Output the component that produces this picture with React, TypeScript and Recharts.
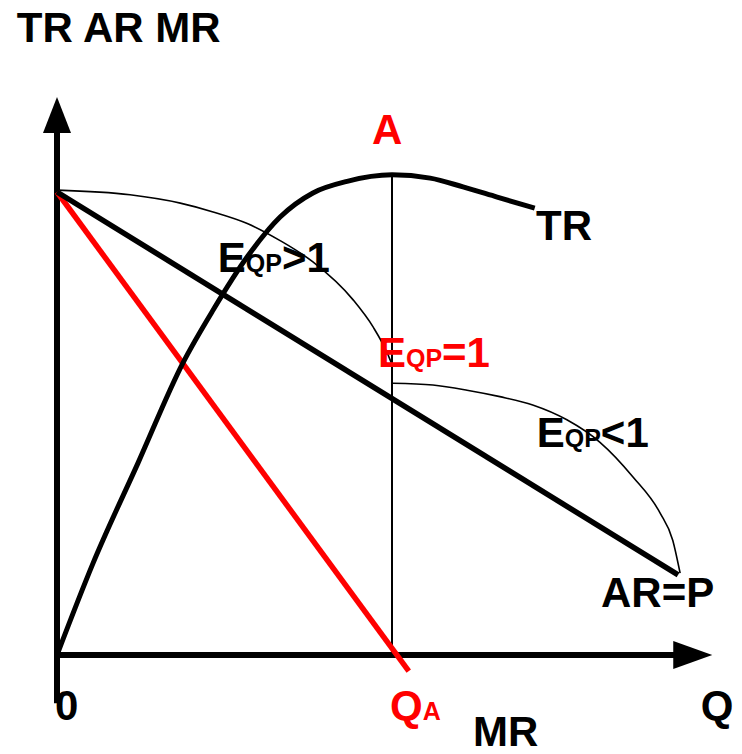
import { ComposedChart, Line, XAxis, YAxis, ReferenceLine, ReferenceDot } from "recharts";

// Q on x, price / revenue on y (QA = 5, AR intercept = 10)
const AR = [
  { q: 0, p: 10 },
  { q: 9.27, p: 1.73 },
];

const MR = [
  { q: 0, p: 10 },
  { q: 5.25, p: -0.35 },
];

const TR = [
  { q: 0, p: 0 },
  { q: 0.54, p: 1.99 },
  { q: 1.21, p: 4.15 },
  { q: 1.88, p: 6.31 },
  { q: 2.33, p: 7.45 },
  { q: 2.84, p: 8.6 },
  { q: 3.33, p: 9.46 },
  { q: 3.82, p: 9.98 },
  { q: 4.33, p: 10.23 },
  { q: 5.0, p: 10.37 },
  { q: 5.57, p: 10.3 },
  { q: 6.06, p: 10.11 },
  { q: 6.57, p: 9.89 },
  { q: 7.13, p: 9.65 },
];

// elastic arc (E > 1) and inelastic arc (E < 1)
const ARC_ELASTIC = [
  { q: 0, p: 10.04 },
  { q: 1.09, p: 9.94 },
  { q: 1.84, p: 9.76 },
  { q: 2.33, p: 9.57 },
  { q: 2.84, p: 9.32 },
  { q: 3.33, p: 8.95 },
  { q: 3.82, p: 8.49 },
  { q: 4.42, p: 7.67 },
  { q: 4.72, p: 7.08 },
  { q: 4.93, p: 6.52 },
  { q: 4.99, p: 6.31 },
];

const ARC_INELASTIC = [
  { q: 5.01, p: 5.87 },
  { q: 5.61, p: 5.83 },
  { q: 6.12, p: 5.72 },
  { q: 6.61, p: 5.58 },
  { q: 7.1, p: 5.4 },
  { q: 7.61, p: 5.08 },
  { q: 8.1, p: 4.6 },
  { q: 8.6, p: 3.84 },
  { q: 9.0, p: 3.07 },
  { q: 9.19, p: 2.48 },
  { q: 9.3, p: 1.77 },
];

const Q_A = 5;
const TR_MAX = 10.37;

const RED = "#ff0000";
const FONT = "'Liberation Sans', Arial, Helvetica, sans-serif";

// text parts: [text, small?]
type Part = [string, boolean];
const LABELS: { q: number; p: number; color: string; parts: Part[] }[] = [
  { q: -0.6, p: 13.24, color: "#000", parts: [["TR AR MR", false]] },
  { q: 4.7, p: 11.04, color: RED, parts: [["A", false]] },
  { q: 7.15, p: 8.96, color: "#000", parts: [["TR", false]] },
  { q: 2.4, p: 8.27, color: "#000", parts: [["E", false], ["QP", true], [">1", false]] },
  { q: 4.79, p: 6.22, color: RED, parts: [["E", false], ["QP", true], ["=1", false]] },
  { q: 7.16, p: 4.49, color: "#000", parts: [["E", false], ["QP", true], ["<1", false]] },
  { q: 8.12, p: 1.04, color: "#000", parts: [["AR=P", false]] },
  { q: -0.03, p: -1.4, color: "#000", parts: [["0", false]] },
  { q: 4.97, p: -1.4, color: RED, parts: [["Q", false], ["A", true]] },
  { q: 6.21, p: -1.96, color: "#000", parts: [["MR", false]] },
  { q: 9.61, p: -1.4, color: "#000", parts: [["Q", false]] },
];

const labelShape = (parts: Part[], color: string) => (props: any) => (
  <text x={props.cx} y={props.cy} fill={color} fontFamily={FONT} fontWeight="bold">
    {parts.map(([t, small], i) => (
      <tspan key={i} fontSize={small ? 25 : 42}>
        {t}
      </tspan>
    ))}
  </text>
);

const upArrow = (props: any) => (
  <polygon
    points={`${props.cx},${props.cy} ${props.cx - 14},${props.cy + 36} ${props.cx + 14},${props.cy + 36}`}
    fill="#000"
  />
);

const rightArrow = (props: any) => (
  <polygon
    points={`${props.cx},${props.cy} ${props.cx - 39},${props.cy - 14} ${props.cx - 39},${props.cy + 14}`}
    fill="#000"
  />
);

export default function App() {
  return (
    <div style={{ position: "absolute", left: 0, top: 0, background: "#fff" }}>
      <ComposedChart
        width={742}
        height={754}
        margin={{ top: 76.25, right: 15, bottom: 29.55, left: 23.5 }}
      >
        <XAxis type="number" dataKey="q" domain={[-0.5, 10]} hide allowDataOverflow />
        <YAxis type="number" dataKey="p" domain={[-1.5, 12.5]} hide allowDataOverflow />

        {/* axes */}
        <ReferenceLine
          segment={[{ x: 0, y: -1.04 }, { x: 0, y: 11.4 }]}
          stroke="#000"
          strokeWidth={6}
          ifOverflow="visible"
        />
        <ReferenceLine
          segment={[{ x: -0.04, y: 0 }, { x: 9.25, y: 0 }]}
          stroke="#000"
          strokeWidth={6}
          ifOverflow="visible"
        />
        <ReferenceDot x={0} y={12.05} r={1} shape={upArrow} ifOverflow="visible" />
        <ReferenceDot x={9.78} y={0} r={1} shape={rightArrow} ifOverflow="visible" />

        <ReferenceLine
          segment={[{ x: Q_A, y: 0 }, { x: Q_A, y: TR_MAX }]}
          stroke="#000"
          strokeWidth={2}
          ifOverflow="visible"
        />

        <Line data={ARC_ELASTIC} dataKey="p" type="monotone" stroke="#000" strokeWidth={1.6} dot={false} isAnimationActive={false} />
        <Line data={ARC_INELASTIC} dataKey="p" type="monotone" stroke="#000" strokeWidth={1.6} dot={false} isAnimationActive={false} />
        <Line data={MR} dataKey="p" type="linear" stroke={RED} strokeWidth={5.5} dot={false} isAnimationActive={false} />
        <Line data={AR} dataKey="p" type="linear" stroke="#000" strokeWidth={5.5} dot={false} isAnimationActive={false} />
        <Line data={TR} dataKey="p" type="monotone" stroke="#000" strokeWidth={5} dot={false} isAnimationActive={false} />

        {LABELS.map((l, i) => (
          <ReferenceDot
            key={i}
            x={l.q}
            y={l.p}
            r={1}
            shape={labelShape(l.parts, l.color)}
            ifOverflow="visible"
          />
        ))}
      </ComposedChart>
    </div>
  );
}
